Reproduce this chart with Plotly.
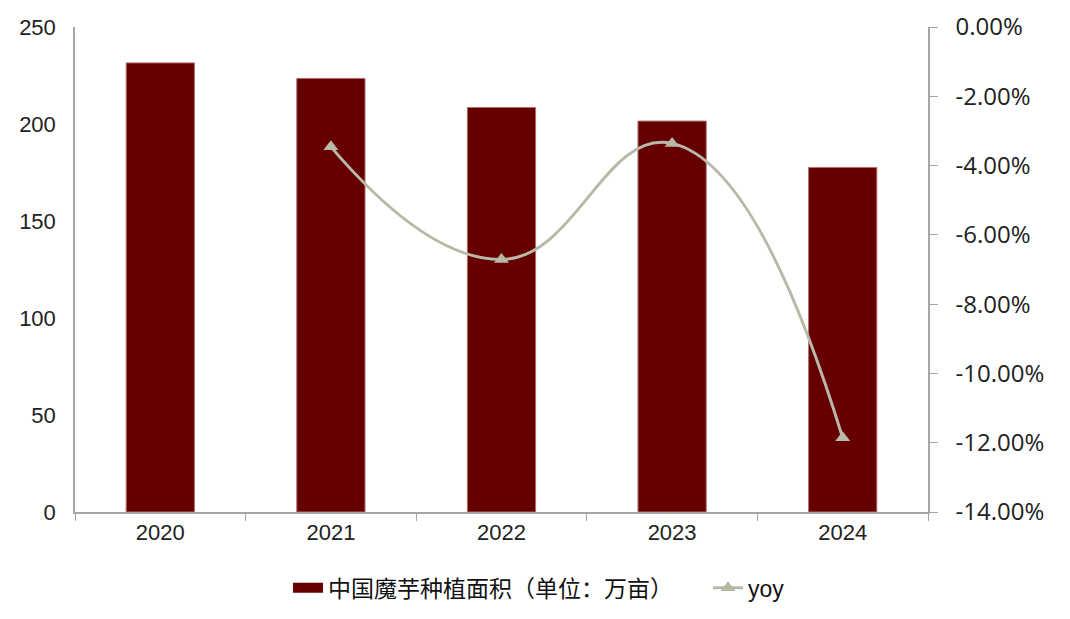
import plotly.graph_objects as go

years = ["2020", "2021", "2022", "2023", "2024"]
area = [231.5, 223.5, 208.5, 201.5, 177.6]
yoy_years = ["2021", "2022", "2023", "2024"]
yoy = [-0.0346, -0.0671, -0.0336, -0.1186]
yoy_tick_vals = [0, -0.02, -0.04, -0.06, -0.08, -0.10, -0.12, -0.14]
yoy_tick_text = ["0.00%", "-2.00%", "-4.00%", "-6.00%", "-8.00%", "-10.00%", "-12.00%", "-14.00%"]

bar_name = "中国魔芋种植面积（单位：万亩）"
line_name = "yoy"

bar_color = "#660000"
line_color = "#b9b9a9"

fig = go.Figure()
fig.add_trace(go.Bar(
    x=years, y=area, name=bar_name, legendgroup="bar", showlegend=False,
    marker=dict(color=bar_color, line=dict(color="#b07070", width=1)),
    width=0.4,
))
# legend entry for the bar series drawn as a wide rectangle (like the reference)
fig.add_trace(go.Scatter(
    x=[None], y=[None], name=bar_name, legendgroup="bar", legend="legend",
    mode="lines", line=dict(color=bar_color, width=11),
))
fig.add_trace(go.Scatter(
    x=yoy_years, y=yoy, name=line_name, yaxis="y2", legend="legend2",
    mode="lines+markers",
    line=dict(color=line_color, width=3, shape="spline", smoothing=1.3),
    marker=dict(symbol="triangle-up", size=13, color=line_color),
))

font = "Liberation Sans, Arial, Noto Sans CJK SC, sans-serif"
legend_common = dict(
    orientation="h", xref="container", yref="container",
    xanchor="left", y=0.051, yanchor="middle",
    font=dict(size=23, color="#111111"),
    bgcolor="rgba(0,0,0,0)",
)
fig.update_layout(
    width=1062, height=611,
    margin=dict(l=67, r=142, t=19, b=107),
    plot_bgcolor="white", paper_bgcolor="white",
    font=dict(family=font, size=22, color="#222222"),
    showlegend=True,
    legend=dict(x=280 / 1062, **legend_common),
    legend2=dict(x=700 / 1062, **legend_common),
    xaxis=dict(
        type="category", showgrid=False, automargin=False,
        showline=True, linecolor="#a6a6a6", linewidth=1.5,
        ticks="outside", tickson="boundaries", ticklen=7, tickcolor="#a6a6a6",
        tickfont=dict(size=22, color="#222222"),
        range=[-0.5, 4.5],
    ),
    yaxis=dict(
        range=[0, 250], dtick=50, showgrid=False, automargin=False,
        showline=True, linecolor="#a6a6a6", linewidth=1.5,
        ticks="", tickfont=dict(size=22, color="#222222"),
        ticklabelstandoff=13, zeroline=False,
    ),
    yaxis2=dict(
        overlaying="y", side="right", automargin=False,
        range=[-0.14, 0], tickmode="array",
        tickvals=yoy_tick_vals, ticktext=yoy_tick_text,
        showgrid=False, zeroline=False,
        showline=True, linecolor="#a6a6a6", linewidth=1.5,
        ticks="outside", ticklen=8, tickcolor="#a6a6a6",
        tickfont=dict(family="Open Sans, Noto Sans, Liberation Sans, sans-serif", size=24, color="#222222"),
        ticklabelstandoff=13,
    ),
)

fig.write_html("out.html")
